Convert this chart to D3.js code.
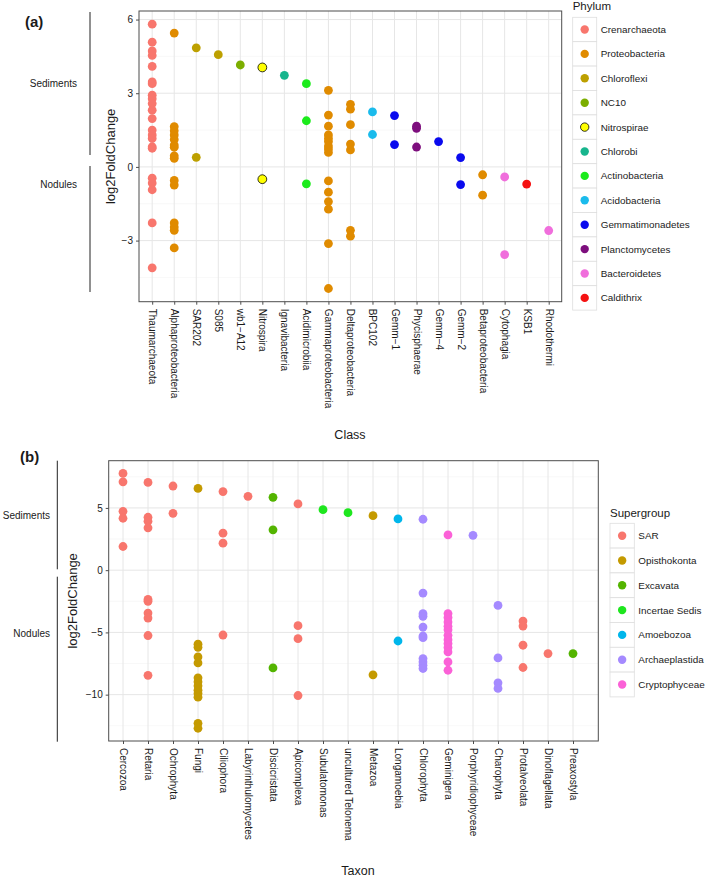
<!DOCTYPE html>
<html><head><meta charset="utf-8">
<script src="https://cdn.jsdelivr.net/npm/d3@7"></script>
<style>
body{margin:0;background:#fff;}
svg text{font-family:"Liberation Sans",Arial,Helvetica,sans-serif;fill:#1a1a1a;}
</style></head>
<body>
<svg id="chart" width="709" height="880"></svg>
<script>
// ---------- Panel (a) data ----------
const aClasses = ["Thaumarchaeota","Alphaproteobacteria","SAR202","S085","wb1\u2212A12","Nitrospira","Ignavibacteria","Acidimicrobiia","Gammaproteobacteria","Deltaproteobacteria","BPC102","Gemm\u22121","Phycisphaerae","Gemm\u22124","Gemm\u22122","Betaproteobacteria","Cytophagia","KSB1","Rhodothermi"];
const aClassPhylum = ["Crenarchaeota","Proteobacteria","Chloroflexi","Chloroflexi","NC10","Nitrospirae","Chlorobi","Actinobacteria","Proteobacteria","Proteobacteria","Acidobacteria","Gemmatimonadetes","Planctomycetes","Gemmatimonadetes","Gemmatimonadetes","Proteobacteria","Bacteroidetes","Caldithrix","Bacteroidetes"];
const aValues = [
  [5.81,5.08,4.72,4.54,4.09,3.46,3.39,2.92,2.78,2.58,2.31,1.97,1.50,1.30,1.16,0.82,0.76,-0.46,-0.66,-0.93,-2.28,-4.11],
  [5.45,1.64,1.47,1.30,1.12,0.89,0.80,0.45,0.35,-0.55,-0.74,-2.28,-2.45,-2.58,-3.30],
  [4.85,0.39],
  [4.57],
  [4.15],
  [4.05,-0.50],
  [3.73],
  [3.39,1.88,-0.69],
  [3.12,2.11,1.66,1.30,1.16,1.03,0.85,0.73,0.59,-0.57,-1.03,-1.41,-1.72,-3.12,-4.95],
  [2.55,2.35,1.72,0.93,0.69,-2.58,-2.82],
  [2.24,1.32],
  [2.09,0.91],
  [1.66,1.57,0.81],
  [1.03],
  [0.38,-0.72],
  [-0.32,-1.15],
  [-0.41,-3.57],
  [-0.70],
  [-2.59]
];
const aPhyla = ["Crenarchaeota","Proteobacteria","Chloroflexi","NC10","Nitrospirae","Chlorobi","Actinobacteria","Acidobacteria","Gemmatimonadetes","Planctomycetes","Bacteroidetes","Caldithrix"];
const aPhylumColors = ["#F8766D","#E08B00","#BDA000","#7CAE00","#FFFF00","#17B58D","#1CEB1C","#1ABBEC","#0A0AEE","#7D0E7D","#F06EDC","#F51212"];
const aYTicks = [-3,0,3,6];

// ---------- Panel (b) data ----------
const bTaxa = ["Cercozoa","Retaria","Ochrophyta","Fungi","Ciliophora","Labyrinthulomycetes","Discicristata","Apicomplexa","Subulatomonas","uncultured Telonema","Metazoa","Longamoebia","Chlorophyta","Geminigera","Porphyridiophyceae","Charophyta","Protalveolata","Dinoflagellata","Preaxostyla"];
const bTaxonGroup = ["SAR","SAR","SAR","Opisthokonta","SAR","SAR","Excavata","SAR","Incertae Sedis","Incertae Sedis","Opisthokonta","Amoebozoa","Archaeplastida","Cryptophyceae","Archaeplastida","Archaeplastida","SAR","SAR","Excavata"];
const bValues = [
  [7.77,7.10,4.73,4.17,1.90],
  [7.05,4.25,3.93,3.40,-2.35,-2.50,-3.45,-3.85,-5.25,-8.45],
  [6.76,4.57],
  [6.57,-5.95,-6.20,-6.97,-7.45,-8.65,-8.97,-9.29,-9.64,-9.90,-10.20,-12.30,-12.70],
  [6.31,2.97,2.17,-5.21],
  [5.93],
  [5.85,3.24,-7.85],
  [5.32,-4.46,-5.50,-10.07],
  [4.86],
  [4.62],
  [4.38,-8.41],
  [4.12,-5.69],
  [4.09,-1.84,-3.50,-3.71,-4.57,-5.29,-5.42,-7.10,-7.37,-7.64,-7.90],
  [2.83,-3.49,-3.81,-4.17,-4.51,-4.78,-5.23,-5.58,-5.90,-6.22,-6.57,-7.37,-8.04],
  [2.80],
  [-2.83,-7.05,-9.05,-9.50],
  [-4.09,-4.49,-6.03,-7.82],
  [-6.70],
  [-6.70]
];
const bGroups = ["SAR","Opisthokonta","Excavata","Incertae Sedis","Amoebozoa","Archaeplastida","Cryptophyceae"];
const bGroupColors = ["#F8766D","#C49A00","#53B400","#1EE61E","#00B6EB","#A58AFF","#FB61D7"];
const bYTicks = [-10,-5,0,5];

const svg = d3.select("#chart");

function panel(opt){
  const {left,right,top,bottom,cats,vals,catGroup,groups,colors,yTicks,xRange,tag,xTitle,xTitleX,xTitleY,yTitleX,sideX,sideTextX,sedRange,nodRange,legend} = opt;
  const all = vals.flat();
  const [mn,mx] = d3.extent(all);
  const ex = (mx-mn)*0.05;
  const y = d3.scaleLinear().domain([mn-ex,mx+ex]).range([bottom,top]);
  const x = d3.scalePoint().domain(cats).range(xRange);
  const color = d3.scaleOrdinal().domain(groups).range(colors);
  const g = svg.append("g");
  // grid minor
  const minor = [];
  for(let i=0;i<yTicks.length+1;i++){
    const step = yTicks[1]-yTicks[0];
    const v = yTicks[0]-step/2 + i*step;
    if(v>y.domain()[0] && v<y.domain()[1]) minor.push(v);
  }
  g.selectAll(".ymin").data(minor).enter().append("line")
    .attr("x1",left).attr("x2",right).attr("y1",d=>y(d)).attr("y2",d=>y(d))
    .attr("stroke","#f3f3f3").attr("stroke-width",0.6);
  g.selectAll(".ymaj").data(yTicks).enter().append("line")
    .attr("x1",left).attr("x2",right).attr("y1",d=>y(d)).attr("y2",d=>y(d))
    .attr("stroke","#e6e6e6").attr("stroke-width",1);
  g.selectAll(".xmaj").data(cats).enter().append("line")
    .attr("x1",d=>x(d)).attr("x2",d=>x(d)).attr("y1",top).attr("y2",bottom)
    .attr("stroke","#e6e6e6").attr("stroke-width",1);
  // points
  const pts = [];
  cats.forEach((c,i)=>vals[i].forEach(v=>pts.push({c,v,grp:catGroup[i]})));
  g.selectAll(".pt").data(pts).enter().append("circle")
    .attr("cx",d=>x(d.c)).attr("cy",d=>y(d.v)).attr("r",4.4)
    .attr("fill",d=>color(d.grp))
    .attr("stroke",d=>d.grp==="Nitrospirae"?"#000":"none").attr("stroke-width",0.8);
  // border
  g.append("rect").attr("x",left).attr("y",top).attr("width",right-left).attr("height",bottom-top)
    .attr("fill","none").attr("stroke","#4d4d4d").attr("stroke-width",1);
  // y axis
  const ya = g.append("g").attr("transform",`translate(${left},0)`)
    .call(d3.axisLeft(y).tickValues(yTicks).tickSize(3).tickPadding(3).tickFormat(d=>d<0?"\u2212"+Math.abs(d):d));
  ya.select(".domain").remove();
  ya.selectAll("line").attr("stroke","#4d4d4d");
  ya.selectAll("text").attr("font-size","10px").attr("fill","#333");
  // x axis
  const xa = g.append("g").attr("transform",`translate(0,${bottom})`)
    .call(d3.axisBottom(x).tickSize(3).tickPadding(3));
  xa.select(".domain").remove();
  xa.selectAll("line").attr("stroke","#4d4d4d");
  xa.selectAll("text").attr("font-size","10px").attr("fill","#333")
    .attr("x",0).attr("dy",null).attr("y",0)
    .style("text-anchor","start").attr("dominant-baseline","central")
    .attr("transform","translate(0,7) rotate(90)");
  // titles
  g.append("text").attr("x",xTitleX).attr("y",xTitleY).attr("text-anchor","middle")
    .attr("dominant-baseline","central").attr("font-size","12.5px").text(xTitle);
  g.append("text").attr("transform",`translate(${yTitleX},${(top+bottom)/2}) rotate(-90)`)
    .attr("text-anchor","middle").attr("dominant-baseline","central").attr("font-size","13px").text("log2FoldChange");
  g.append("text").attr("x",tag.x).attr("y",tag.y).attr("font-size","15px").attr("font-weight","bold").text(tag.t);
  // side annotations
  g.append("line").attr("x1",sideX).attr("x2",sideX).attr("y1",sedRange[0]).attr("y2",sedRange[1]).attr("stroke","#222").attr("stroke-width",1);
  g.append("line").attr("x1",sideX).attr("x2",sideX).attr("y1",nodRange[0]).attr("y2",nodRange[1]).attr("stroke","#222").attr("stroke-width",1);
  g.append("text").attr("x",sideTextX).attr("y",(sedRange[0]+sedRange[1])/2).attr("text-anchor","end")
    .attr("dominant-baseline","central").attr("font-size","10px").text("Sediments");
  g.append("text").attr("x",sideTextX).attr("y",opt.nodY).attr("text-anchor","end")
    .attr("dominant-baseline","central").attr("font-size","10px").text("Nodules");
  // legend
  const L = legend;
  g.append("text").attr("x",L.x).attr("y",L.titleY).attr("dominant-baseline","central").attr("font-size","11.5px").text(L.title);
  const lg = g.selectAll(".lg").data(groups).enter().append("g")
    .attr("transform",(d,i)=>`translate(${L.x},${L.top+i*L.h})`);
  lg.append("rect").attr("width",L.w).attr("height",L.h).attr("fill","#fff").attr("stroke","#dedede").attr("stroke-width",0.8);
  lg.append("circle").attr("cx",L.w/2).attr("cy",L.h/2).attr("r",4.2).attr("fill",d=>color(d))
    .attr("stroke",d=>d==="Nitrospirae"?"#000":"none").attr("stroke-width",0.8);
  lg.append("text").attr("x",L.w+4).attr("y",L.h/2).attr("dominant-baseline","central").attr("font-size","9.9px").text(d=>d);
}

panel({left:139,right:561.7,top:11,bottom:301.7,cats:aClasses,vals:aValues,catGroup:aClassPhylum,
  groups:aPhyla,colors:aPhylumColors,yTicks:aYTicks,xRange:[152.2,548.7],
  tag:{x:25,y:27,t:"(a)"},xTitle:"Class",xTitleX:350,xTitleY:435,yTitleX:110,
  sideX:90,sideTextX:77,sedRange:[12,155],nodRange:[166,292],nodY:184,
  legend:{x:572.7,titleY:6,top:17.3,h:24.4,w:24,title:"Phylum"}});

panel({left:108.7,right:598.3,top:460.7,bottom:741,cats:bTaxa,vals:bValues,catGroup:bTaxonGroup,
  groups:bGroups,colors:bGroupColors,yTicks:bYTicks,xRange:[123,573],
  tag:{x:20,y:462,t:"(b)"},xTitle:"Taxon",xTitleX:358,xTitleY:871,yTitleX:72,
  sideX:57.3,sideTextX:50,sedRange:[460.7,569.3],nodRange:[576.7,741.7],nodY:633,
  legend:{x:610,titleY:513.3,top:523.3,h:24.8,w:24.3,title:"Supergroup"}});
</script>
</body></html>
